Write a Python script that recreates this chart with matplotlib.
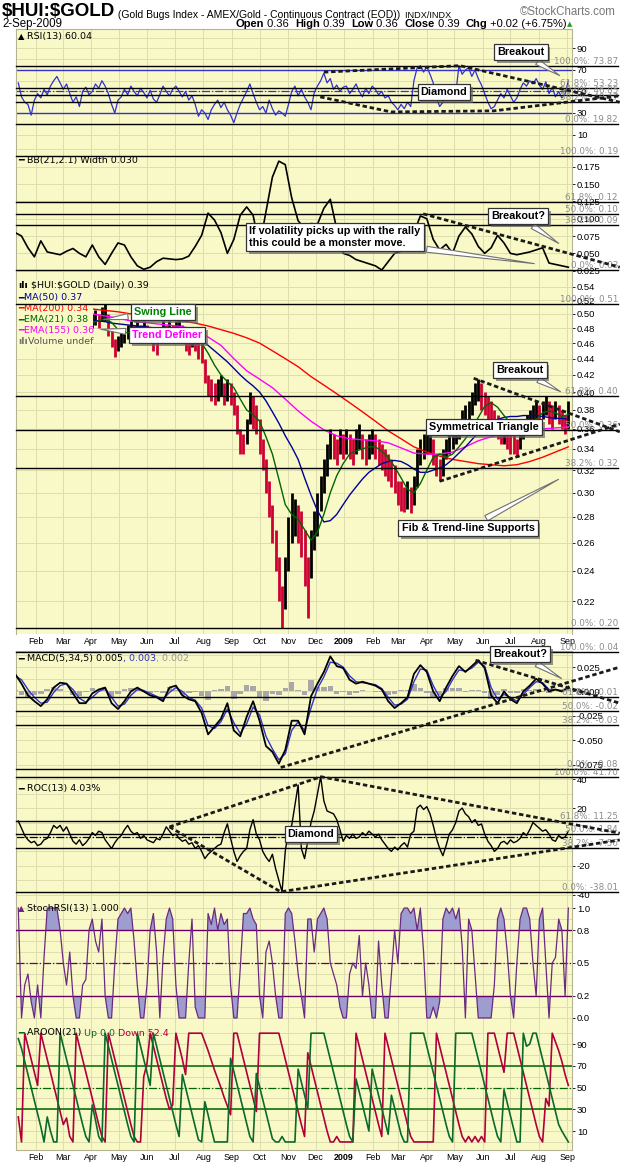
import numpy as np
import pandas as pd
import matplotlib
matplotlib.use("Agg")
import matplotlib.pyplot as plt
import matplotlib.dates as mdates
import matplotlib.transforms as mtransforms
import matplotlib.patheffects as pe
from matplotlib.patches import Rectangle
from matplotlib.ticker import FixedLocator, NullLocator, FuncFormatter

plt.rcParams['axes.unicode_minus'] = False
plt.rcParams['font.family'] = ['DejaVu Sans']

# ---------------- data ----------------
# semi-weekly samples (every 3.5 days) ending 2-Sep-2009
hui_high = [
    0.52, 0.53, 0.52, 0.51, 0.52, 0.53,
    0.53, 0.54, 0.53, 0.52, 0.53, 0.54, 0.53, 0.52,
    0.52, 0.53, 0.52, 0.51, 0.52, 0.51, 0.50, 0.51, 0.50,
    0.50, 0.505, 0.50, 0.51, 0.514, 0.50, 0.48, 0.465, 0.47,
    0.475, 0.48, 0.485, 0.49, 0.485, 0.49, 0.485, 0.49, 0.485,
    0.48, 0.47, 0.465, 0.48, 0.49, 0.485, 0.49, 0.485,
    0.49, 0.495, 0.485, 0.475, 0.47, 0.48, 0.47, 0.465, 0.46,
    0.44, 0.42, 0.415, 0.41, 0.415, 0.42, 0.41, 0.415, 0.41,
    0.40, 0.385, 0.36, 0.355, 0.37, 0.40, 0.395, 0.385, 0.37,
    0.35, 0.33, 0.31, 0.29, 0.27, 0.25, 0.23, 0.25, 0.28,
    0.30, 0.295, 0.29, 0.285, 0.27, 0.25, 0.27, 0.285,
    0.30, 0.315, 0.33, 0.345, 0.36, 0.355, 0.35, 0.36, 0.355,
    0.36, 0.355, 0.35, 0.36, 0.365, 0.355, 0.35, 0.355, 0.36,
    0.355, 0.35, 0.345, 0.34, 0.335, 0.33, 0.325, 0.31,
    0.31, 0.305, 0.31, 0.305, 0.315, 0.34, 0.35, 0.355, 0.36,
    0.36, 0.35, 0.335, 0.33, 0.34, 0.35, 0.36, 0.36, 0.365,
    0.37, 0.38, 0.385, 0.39, 0.40, 0.41, 0.415, 0.41, 0.40,
    0.395, 0.39, 0.38, 0.375, 0.37, 0.37, 0.365, 0.36,
    0.355, 0.35, 0.36, 0.37, 0.375, 0.38, 0.385, 0.39, 0.385,
    0.39, 0.395, 0.39, 0.385, 0.39, 0.385, 0.38, 0.375, 0.39,
]
hui_low = [
    0.50, 0.51, 0.50, 0.49, 0.50, 0.51,
    0.51, 0.52, 0.51, 0.50, 0.51, 0.52, 0.51, 0.50,
    0.50, 0.51, 0.50, 0.49, 0.50, 0.49, 0.48, 0.49, 0.48,
    0.48, 0.485, 0.48, 0.49, 0.49, 0.47, 0.455, 0.442, 0.45,
    0.455, 0.46, 0.465, 0.47, 0.465, 0.47, 0.465, 0.47, 0.465,
    0.46, 0.45, 0.445, 0.46, 0.47, 0.465, 0.47, 0.465,
    0.47, 0.475, 0.46, 0.45, 0.445, 0.455, 0.45, 0.44, 0.435,
    0.41, 0.395, 0.39, 0.385, 0.39, 0.395, 0.385, 0.39, 0.385,
    0.375, 0.355, 0.335, 0.335, 0.345, 0.365, 0.36, 0.355, 0.335,
    0.32, 0.30, 0.28, 0.26, 0.24, 0.22, 0.204, 0.215, 0.24,
    0.26, 0.265, 0.26, 0.25, 0.23, 0.21, 0.235, 0.255,
    0.265, 0.285, 0.30, 0.315, 0.33, 0.33, 0.325, 0.335, 0.33,
    0.335, 0.33, 0.325, 0.335, 0.34, 0.33, 0.325, 0.33, 0.335,
    0.33, 0.325, 0.32, 0.315, 0.31, 0.305, 0.30, 0.29,
    0.285, 0.284, 0.286, 0.283, 0.29, 0.305, 0.325, 0.33, 0.335,
    0.335, 0.325, 0.315, 0.31, 0.315, 0.33, 0.335, 0.34, 0.345,
    0.35, 0.355, 0.36, 0.37, 0.375, 0.385, 0.39, 0.38, 0.375,
    0.37, 0.365, 0.355, 0.35, 0.345, 0.345, 0.34, 0.335,
    0.335, 0.332, 0.34, 0.35, 0.355, 0.36, 0.365, 0.37, 0.365,
    0.37, 0.375, 0.365, 0.36, 0.37, 0.365, 0.36, 0.355, 0.36,
]
rsi = [
    58, 45, 40, 38, 28, 42,
    48, 44, 52, 47, 55, 60, 64, 58,
    52, 57, 48, 40, 45, 36, 50, 54, 47,
    50, 57, 53, 60, 55, 48, 38, 30, 42,
    45, 52, 47, 55, 50, 46, 53, 49, 44,
    51, 43, 40, 47, 55, 50, 46, 52,
    55, 50, 45, 50, 42, 46, 38, 27, 33,
    30, 24, 33, 38, 42, 35, 40, 33, 28,
    21, 30, 38, 44, 50, 57, 48, 40, 33,
    36, 30, 42, 34, 28, 32, 30, 27, 38,
    50, 55, 46, 52, 45, 40, 33, 49,
    55, 60, 67, 58, 62, 52, 56, 50, 54,
    55, 48, 52, 57, 50, 45, 53, 48, 55,
    52, 47, 50, 44, 46, 40, 37, 33,
    38, 34, 40, 36, 60, 72, 74, 68, 73,
    66, 58, 44, 36, 40, 50, 46, 52, 48,
    74, 66, 70, 72, 64, 70, 62, 56, 48,
    40, 34, 36, 42, 48, 44, 52, 46,
    40, 44, 52, 58, 55, 60, 57, 62, 56,
    52, 59, 48, 54, 45, 50, 44, 48, 60,
]
roc = [
    11, 6, 1, -2, -4, -3,
    -6, -5, -2, -1, 3, 8, 6, 8,
    4, 7, 2, -3, -5, -2, -6, -4, -1,
    3, 1, 4, 3, -2, -5, -8, -4, -1,
    1, 5, 8, 4, 2, 3, -1, 1, -2,
    -3, -4, -1, -2, 2, 7, 4, 1,
    2, -1, -3, -2, -5, -4, -8, -6, -10,
    -15, -12, -10, -8, -6, -5, 3, 9, -1,
    -10, -17, -13, -10, -8, 5, 12, 2, -2,
    -10, -14, -17, -12, -22, -30, -38, -10, 5,
    8, 22, 36, -8, -15, -3, 10, 18,
    30, 41.7, 25, 18, 17, 16, 12, 5, -3,
    1, -1, 2, -1, 0, 3, 1, 4, 2,
    0, 2, -2, -5, -8, -10, -7, -9,
    -6, -4, -7, 2, 4, 20, 22, 19, 21,
    16, 8, -1, -8, -13, -6, 2, 5, 10,
    18, 20, 16, 14, 10, 12, 8, 9, 2,
    -3, -6, -10, -8, -4, -3, -5, -2,
    -4, -3, -1, 3, 1, 5, 10, 8, 6,
    4, 5, 2, -2, -3, 1, -1, 0, 4,
]
stoch_rsi = [
    1.0, 0.0, 0.3, 0.4, 0.15, 0.0,
    0.3, 0.0, 0.55, 1.0, 1.0, 1.0, 1.0, 0.8,
    0.5, 0.3, 0.6, 0.2, 0.0, 0.0, 0.3, 0.35, 0.8,
    0.9, 0.7, 0.6, 0.9, 0.2, 0.0, 0.0, 0.5, 0.9,
    0.95, 1.0, 0.95, 1.0, 0.7, 0.3, 0.0, 0.0, 0.3,
    0.8, 0.95, 0.6, 0.0, 0.55, 0.9, 1.0, 0.9,
    0.3, 0.0, 0.0, 0.0, 0.5, 0.9, 0.1, 0.0, 0.0,
    0.0, 0.95, 0.85, 1.0, 0.8, 0.95, 0.85, 0.9, 0.3,
    0.0, 0.0, 0.45, 0.95, 0.95, 1.0, 0.9, 0.85, 0.2,
    0.0, 0.6, 0.7, 0.5, 0.2, 0.0, 0.0, 0.95, 1.0,
    0.95, 0.7, 0.4, 0.2, 0.0, 0.9, 0.9, 0.6,
    0.9, 0.95, 1.0, 0.9, 0.5, 0.4, 0.3, 0.1, 0.0,
    0.0, 0.4, 0.5, 0.45, 0.75, 0.2, 0.5, 0.3, 0.0,
    0.0, 0.7, 0.3, 0.0, 0.0, 0.4, 0.8, 0.5,
    0.95, 1.0, 1.0, 0.95, 1.0, 0.8, 1.0, 0.6, 0.0,
    0.0, 0.1, 0.0, 0.15, 0.9, 1.0, 0.95, 1.0, 0.9,
    1.0, 0.65, 0.0, 0.9, 0.8, 0.4, 0.0, 0.0, 0.0,
    0.0, 0.0, 0.3, 0.9, 1.0, 0.9, 0.6, 0.2,
    0.0, 0.5, 0.9, 1.0, 1.0, 0.9, 0.5, 0.2, 0.9,
    1.0, 0.5, 0.0, 0.5, 0.55, 0.9, 0.8, 0.2, 1.0,
]
aroon_up = [
    95, 86, 74, 62, 50, 38,
    26, 14, 0, 23, 10, 0, 0, 100,
    88, 76, 64, 52, 40, 28, 16, 5, 0,
    34, 20, 5, 0, 100, 88, 76, 64, 52,
    40, 28, 16, 5, 0, 100, 88, 76, 64,
    52, 100, 88, 76, 64, 52, 40, 28,
    16, 5, 62, 50, 38, 26, 14, 2, 0,
    37, 25, 12, 0, 0, 0, 0, 0, 77,
    65, 53, 41, 29, 17, 5, 0, 63, 51,
    39, 27, 15, 3, 0, 0, 5, 0, 0,
    0, 0, 67, 55, 43, 31, 100, 100,
    100, 100, 100, 88, 76, 64, 52, 40, 28,
    16, 5, 0, 58, 46, 34, 22, 10, 67,
    55, 43, 31, 19, 7, 43, 31, 19,
    7, 0, 0, 100, 100, 100, 100, 100, 88,
    76, 64, 52, 40, 28, 16, 5, 0, 100,
    100, 100, 100, 100, 100, 88, 76, 64, 52,
    40, 28, 16, 5, 0, 48, 36, 24,
    12, 0, 0, 100, 88, 90, 100, 100, 88,
    76, 64, 52, 40, 28, 16, 10, 5, 0,
]
aroon_down = [
    23, 0, 100, 88, 76, 64,
    52, 100, 88, 76, 64, 52, 40, 28,
    16, 22, 5, 0, 100, 88, 76, 64, 52,
    40, 28, 16, 5, 0, 100, 88, 76, 64,
    52, 40, 28, 16, 5, 0, 0, 60, 72,
    100, 88, 76, 64, 52, 40, 30, 34,
    100, 88, 76, 62, 100, 100, 100, 100, 100,
    92, 84, 75, 66, 58, 50, 41, 33, 25,
    100, 100, 88, 76, 64, 52, 40, 28, 100,
    100, 100, 100, 100, 100, 100, 88, 76, 64,
    52, 40, 28, 16, 5, 82, 70, 58,
    46, 34, 22, 10, 0, 0, 5, 0, 0,
    0, 0, 0, 100, 88, 76, 64, 52, 40,
    28, 16, 5, 100, 88, 76, 64, 52,
    40, 28, 16, 5, 0, 0, 0, 0, 0,
    0, 0, 100, 88, 76, 64, 52, 40, 28,
    16, 5, 0, 5, 0, 5, 0, 5, 0,
    100, 100, 100, 88, 76, 64, 100, 100,
    100, 88, 76, 64, 52, 40, 28, 16, 5,
    0, 40, 33, 100, 92, 84, 74, 62, 52,
]
# weekly samples ending 2-Sep-2009
bb_width = [
    0.08, 0.075, 0.058, 0.045, 0.068, 0.052, 0.05, 0.048, 0.053, 0.057,
    0.05, 0.045, 0.062, 0.045, 0.034, 0.05, 0.065, 0.062, 0.045, 0.032,
    0.027, 0.03, 0.038, 0.043, 0.042, 0.041, 0.042, 0.046, 0.06, 0.076,
    0.108, 0.098, 0.08, 0.05, 0.07, 0.105, 0.117, 0.105, 0.06, 0.11,
    0.16, 0.183, 0.178, 0.13, 0.097, 0.086, 0.093, 0.092, 0.115, 0.128,
    0.085, 0.05, 0.047, 0.041, 0.038, 0.035, 0.032, 0.026, 0.038, 0.05,
    0.053, 0.058, 0.08, 0.104, 0.1, 0.07, 0.055, 0.063, 0.05, 0.075,
    0.088, 0.078, 0.06, 0.05, 0.058, 0.076, 0.065, 0.05, 0.048, 0.05,
    0.052, 0.055, 0.058, 0.036, 0.034, 0.032, 0.03,
]
macd = [
    0.018, 0.008, -0.004, -0.01, -0.015, -0.008, 0.004, 0.009, 0.008, -0.002,
    -0.012, -0.012, -0.002, 0.002, 0.004, -0.012, -0.018, -0.01, 0.0, 0.004,
    0.0, -0.004, -0.006, -0.01, 0.004, 0.006, -0.004, -0.008, -0.01, -0.022,
    -0.044, -0.036, -0.028, -0.012, -0.04, -0.046, -0.026, -0.01, -0.03, -0.056,
    -0.062, -0.074, -0.06, -0.03, -0.03, -0.044, -0.005, 0.008, 0.02, 0.036,
    0.026, 0.024, 0.012, 0.008, 0.01, 0.008, 0.006, 0.002, -0.01, -0.017,
    -0.012, -0.006, 0.018, 0.027, 0.02, 0.0, -0.01, 0.004, 0.016, 0.026,
    0.02, 0.026, 0.032, 0.024, -0.004, -0.012, 0.0, -0.008, -0.012, 0.0,
    0.006, 0.013, 0.008, 0.0, 0.002, 0.0, 0.005,
]
macd_signal = [
    0.016, 0.012, 0.002, -0.006, -0.012, -0.011, -0.001, 0.006, 0.008, 0.002,
    -0.007, -0.011, -0.006, 0.0, 0.003, -0.006, -0.015, -0.013, -0.004, 0.002,
    0.001, -0.002, -0.005, -0.008, -0.001, 0.004, 0.0, -0.006, -0.009, -0.017,
    -0.035, -0.038, -0.031, -0.018, -0.032, -0.043, -0.033, -0.016, -0.024, -0.046,
    -0.059, -0.07, -0.064, -0.04, -0.031, -0.04, -0.017, 0.003, 0.015, 0.03,
    0.029, 0.025, 0.016, 0.01, 0.009, 0.008, 0.007, 0.003, -0.006, -0.014,
    -0.013, -0.008, 0.01, 0.023, 0.022, 0.006, -0.006, 0.0, 0.012, 0.022,
    0.021, 0.024, 0.03, 0.026, 0.004, -0.008, -0.003, -0.006, -0.01, -0.003,
    0.004, 0.01, 0.009, 0.002, 0.002, 0.001, 0.003,
]
macd_hist = [
    0.002, -0.004, -0.006, -0.004, -0.003, 0.003, 0.005, 0.003, 0.0, -0.004,
    -0.005, -0.001, 0.004, 0.002, 0.001, -0.006, -0.003, 0.003, 0.004, 0.002,
    -0.001, -0.002, -0.001, -0.002, 0.005, 0.002, -0.004, -0.002, -0.001, -0.005,
    -0.009, 0.002, 0.003, 0.006, -0.008, -0.003, 0.007, 0.006, -0.006, -0.01,
    -0.003, -0.004, 0.004, 0.01, 0.001, -0.004, 0.012, 0.005, 0.005, 0.006,
    -0.003, -0.001, -0.004, -0.002, 0.001, 0.0, -0.001, -0.001, -0.004, -0.003,
    0.001, 0.002, 0.008, 0.004, -0.002, -0.006, -0.004, 0.004, 0.004, 0.004,
    -0.001, 0.002, 0.002, -0.002, -0.008, -0.004, 0.003, -0.002, -0.002, 0.003,
    0.002, 0.003, -0.001, -0.002, 0.0, -0.001, 0.002,
]
# moving averages: weekly (MA50, EMA21) and bi-weekly (MA200, EMA155) from 2-Apr-2008
ma50 = [
    0.492, 0.49, 0.489, 0.487, 0.486, 0.485, 0.484, 0.483, 0.482, 0.481,
    0.48, 0.479, 0.478, 0.477, 0.476, 0.474, 0.47, 0.465, 0.457, 0.45,
    0.443, 0.436, 0.428, 0.42, 0.413, 0.407, 0.4, 0.39, 0.378, 0.366,
    0.353, 0.342, 0.33, 0.313, 0.298, 0.285, 0.276, 0.277, 0.282, 0.29,
    0.298, 0.305, 0.312, 0.318, 0.322, 0.326, 0.328, 0.329, 0.328, 0.325,
    0.321, 0.318, 0.318, 0.32, 0.322, 0.325, 0.33, 0.336, 0.342, 0.349,
    0.356, 0.362, 0.367, 0.37, 0.372, 0.373, 0.373, 0.374, 0.374, 0.374,
    0.373, 0.372, 0.371, 0.371, 0.37,
]
ema21 = [
    0.488, 0.49, 0.493, 0.488, 0.478, 0.474, 0.474, 0.476, 0.477, 0.476,
    0.472, 0.468, 0.47, 0.474, 0.476, 0.472, 0.466, 0.46, 0.447, 0.432,
    0.42, 0.412, 0.405, 0.392, 0.38, 0.375, 0.368, 0.352, 0.335, 0.312,
    0.29, 0.282, 0.278, 0.27, 0.262, 0.268, 0.282, 0.3, 0.315, 0.326,
    0.335, 0.338, 0.34, 0.342, 0.342, 0.338, 0.332, 0.323, 0.313, 0.303,
    0.3, 0.308, 0.32, 0.332, 0.335, 0.332, 0.335, 0.342, 0.35, 0.36,
    0.372, 0.384, 0.388, 0.383, 0.374, 0.366, 0.358, 0.357, 0.362, 0.37,
    0.377, 0.379, 0.377, 0.373, 0.375,
]
ma200 = [
    0.507, 0.505, 0.503, 0.50, 0.497, 0.495, 0.492, 0.49, 0.487, 0.483,
    0.478, 0.473, 0.467, 0.46, 0.45, 0.44, 0.43, 0.418, 0.408, 0.398,
    0.388, 0.378, 0.368, 0.358, 0.35, 0.342, 0.337, 0.333, 0.33, 0.328,
    0.326, 0.325, 0.324, 0.325, 0.328, 0.332, 0.337, 0.342,
]
ema155 = [
    0.50, 0.497, 0.494, 0.49, 0.488, 0.486, 0.484, 0.482, 0.478, 0.468,
    0.457, 0.44, 0.425, 0.415, 0.405, 0.392, 0.379, 0.368, 0.359, 0.353,
    0.35, 0.349, 0.348, 0.346, 0.341, 0.336, 0.335, 0.335, 0.337, 0.342,
    0.348, 0.352, 0.355, 0.356, 0.358, 0.36, 0.361, 0.362,
]

# retracement levels drawn by the chartist (value, label)
rsi_fib = [73.87, 53.23, 46.85, 40.47, 19.82]
rsi_fib_lbl = ['100.0%: 73.87', '61.8%: 53.23', '50.0%: 46.85', '38.2%: 40.47', '0.0%: 19.82']
bb_fib = [0.190, 0.124, 0.107, 0.091, 0.026]
bb_fib_lbl = ['100.0%: 0.19', '61.8%: 0.12', '50.0%: 0.10', '38.2%: 0.09', '0.0%: 0.03']
px_fib = [0.514, 0.396, 0.359, 0.322, 0.204]
px_fib_lbl = ['100.0%: 0.51', '61.8%: 0.40', '50.0%: 0.36', '38.2%: 0.32', '0.0%: 0.20']
macd_fib = [0.040, -0.006, -0.020, -0.034, -0.080]
macd_fib_lbl = ['100.0%: 0.04', '61.8%: -0.01', '50.0%: -0.02', '38.2%: -0.03', '0.0%: -0.08']
roc_fib = [41.70, 11.25, 1.84, -7.56, -38.01]
roc_fib_lbl = ['100.0%: 41.70', '61.8%: 11.25', '50.0%: 1.84', '38.2%: -7.56', '0.0%: -38.01']

# ---------------- setup ----------------
W, H = 620, 1165
BG = '#f9f9c8'
GRID = '#deddb0'
FIBC = '#8c8c8c'
TICKFONT = 'Liberation Sans'
BOLDFONT = ['Liberation Sans', 'DejaVu Sans']

fig = plt.figure(figsize=(W / 100, H / 100), dpi=100)
PX = mtransforms.Affine2D().scale(0.01, -0.01).translate(0, H / 100) + fig.dpi_scale_trans


def when(n, hours):
    return mdates.date2num(pd.date_range(end='2009-09-02', periods=n, freq=f'{hours}h'))


def d(s):
    return mdates.date2num(pd.Timestamp(s))


X0, X1, XFAR = d('2008-01-10'), d('2009-09-06'), d('2009-10-26')
months = pd.date_range('2008-02-01', '2009-09-01', freq='MS')
month_pos = mdates.date2num(months)
month_lbl = ['2009' if m.month == 1 else m.strftime('%b') for m in months]


def panel(top, bot, ymin, ymax, major, minor, fmt):
    ax = fig.add_axes([16 / W, 1 - bot / H, 556 / W, (bot - top) / H], facecolor=BG)
    ax.set_xlim(X0, X1)
    ax.set_ylim(ymin, ymax)
    ax.set_axisbelow(True)
    ax.xaxis.set_major_locator(FixedLocator(month_pos))
    ax.set_xticklabels(month_lbl)
    ax.yaxis.set_major_locator(FixedLocator(major))
    ax.yaxis.set_minor_locator(FixedLocator(minor))
    ax.yaxis.set_major_formatter(FuncFormatter(lambda v, p: fmt % v))
    ax.yaxis.tick_right()
    ax.grid(True, axis='x', which='major', color=GRID, lw=0.7)
    ax.grid(True, axis='y', which='both', color=GRID, lw=0.7)
    ax.tick_params(axis='x', length=0, labelbottom=False, labelsize=6.4, pad=2.5,
                   labelfontfamily=TICKFONT)
    ax.tick_params(axis='y', which='major', length=2, width=0.6, pad=1.5, labelsize=6.8,
                   labelfontfamily=TICKFONT)
    ax.tick_params(axis='y', which='minor', length=0)
    for s in ('top', 'bottom'):
        ax.spines[s].set_visible(False)
    for s in ('left', 'right'):
        ax.spines[s].set_color('#b4b494')
        ax.spines[s].set_linewidth(0.8)
    return ax


def fibs(ax, levels, labels):
    for lv, lb in zip(levels, labels):
        ax.plot([X0, XFAR], [lv, lv], color='black', lw=1.0, clip_on=False, zorder=7)
        ax.text(XFAR, lv, lb, ha='right', va='bottom', color=FIBC, fontsize=6.3,
                clip_on=False, zorder=7)


def dashed(ax, pts):
    xs = [d(p[0]) for p in pts]
    ys = [p[1] for p in pts]
    ax.plot(xs, ys, color='#1a1a1a', lw=2.0, ls=(0, (1.6, 1.0)), clip_on=False, zorder=8)


def callout(ax, text, box, tip=None, color='black', size=7.8):
    bbox = dict(boxstyle='square,pad=0.28', fc='white', ec='#333333', lw=0.9)
    if tip is None:
        t = ax.text(box[0], box[1], text, transform=PX, ha='center', va='center',
                    fontsize=size, fontweight='bold', color=color, family=BOLDFONT,
                    bbox=bbox, zorder=10)
    else:
        t = ax.annotate(text, xy=tip, xycoords=PX, xytext=box, textcoords=PX,
                        ha='center', va='center', fontsize=size, fontweight='bold',
                        color=color, family=BOLDFONT, bbox=bbox, annotation_clip=False,
                        multialignment='left', zorder=10,
                        arrowprops=dict(arrowstyle='wedge,tail_width=0.55,shrink_factor=0.5',
                                        fc='white', ec='#707070', lw=0.8))
    t.get_bbox_patch().set_path_effects([pe.SimplePatchShadow(offset=(2, -2),
                                         shadow_rgbFace='#666666', alpha=0.7), pe.Normal()])
    return t


def chain(ax, x, y, pieces, zorder=6):
    t = None
    for i, (s, c, kw) in enumerate(pieces):
        opts = dict(color=c, zorder=zorder)
        opts.setdefault('fontsize', 6.8)
        opts.update(kw)
        if t is None:
            t = ax.text(x, y, s, transform=PX, ha='left', va='center', **opts)
        else:
            t = ax.annotate(s, xy=(1, 0), xycoords=t, xytext=(0, 0),
                            textcoords='offset points', ha='left', va='bottom', **opts)
    return t


xs = when(len(hui_high), 84)
xw = when(len(bb_width), 168)

# ---------------- RSI ----------------
ax_rsi = panel(29, 143, 2.1, 108.1, [10, 30, 50, 70, 90],
               [10, 20, 30, 40, 50, 60, 70, 80, 90, 100], '%d')
ax_rsi.spines['top'].set_visible(True)
ax_rsi.spines['top'].set_color('#b4b494')
for lv in (70, 30):
    ax_rsi.axhline(lv, color='#3333cc', lw=1.0, zorder=2)
ax_rsi.axhline(50, color='#3333cc', lw=0.9, ls='-.', zorder=2)
ax_rsi.plot(when(len(rsi), 84), rsi, color='#3030d0', lw=0.9, zorder=4)
fibs(ax_rsi, rsi_fib, rsi_fib_lbl)
dashed(ax_rsi, [('2008-12-10', 68), ('2009-05-07', 74), ('2009-10-28', 40)])
dashed(ax_rsi, [('2008-12-06', 45), ('2009-02-21', 31), ('2009-06-13', 32), ('2009-10-28', 46)])
chain(ax_rsi, 18, 37, [('\u25b2', 'black', dict(fontsize=6)), (' RSI(13) 60.04', 'black', {})])
callout(ax_rsi, 'Breakout', (521, 52), (562, 77))
callout(ax_rsi, 'Diamond', (444, 92))

# ---------------- BB width ----------------
ax_bb = panel(143, 279, 0.013, 0.2092, [0.025, 0.05, 0.075, 0.1, 0.125, 0.15, 0.175],
              [0.025, 0.05, 0.075, 0.1, 0.125, 0.15, 0.175, 0.2], '%.3f')
ax_bb.plot(xw, bb_width, color='black', lw=1.2, zorder=4)
chain(ax_bb, 18, 160, [('\u2501', 'black', {}), (' BB(21,2.1) Width 0.030', 'black', {})], zorder=5)
fibs(ax_bb, bb_fib, bb_fib_lbl)
dashed(ax_bb, [('2009-03-28', 0.107), ('2009-10-28', 0.030)])
callout(ax_bb, 'Breakout?', (518, 216), (561, 245))
callout(ax_bb, 'If volatility picks up with the rally\nthis could be a monster move.',
        (335, 237), (537, 264))

# ---------------- price ----------------
ax_p = panel(279, 634, 0.2004, 0.5524,
             [0.22, 0.24, 0.26, 0.28, 0.30, 0.32, 0.34, 0.36, 0.38, 0.40, 0.42, 0.44,
              0.46, 0.48, 0.50, 0.52, 0.54], [], '%.2f')
ax_p.set_yscale('log')
ax_p.set_ylim(0.2004, 0.5524)
ax_p.yaxis.set_major_locator(FixedLocator([0.22, 0.24, 0.26, 0.28, 0.30, 0.32, 0.34, 0.36,
                                           0.38, 0.40, 0.42, 0.44, 0.46, 0.48, 0.50, 0.52, 0.54]))
ax_p.yaxis.set_major_formatter(FuncFormatter(lambda v, p: '%.2f' % v))
ax_p.yaxis.set_minor_locator(NullLocator())
ax_p.tick_params(axis='x', labelbottom=True)
hi = np.array(hui_high)
lo = np.array(hui_low)
mid = (hi + lo) / 2
up = np.r_[True, mid[1:] >= mid[:-1]]
bar_cols = np.where(up, 'black', '#cc0033')
ax_p.vlines(xs, lo, hi, colors=bar_cols, lw=2.0, zorder=3)
ax_p.plot(when(len(ma200), 336), ma200, color='#ff0000', lw=1.0, zorder=4)
ax_p.plot(when(len(ema155), 336), ema155, color='#ff00ff', lw=1.0, zorder=4)
ax_p.plot(when(len(ma50), 168), ma50, color='#000099', lw=1.0, zorder=4)
ax_p.plot(when(len(ema21), 168), ema21, color='#006600', lw=1.0, zorder=4)
ax_p.add_patch(Rectangle((16.5, 280), 76, 67, transform=PX, fc=BG, ec='none', zorder=5))
chain(ax_p, 18, 286, [('\u0131l\u0131', 'black', dict(fontweight='bold')),
                      (r' \$HUI:\$GOLD (Daily) 0.39', 'black', {})])
for row, (lbl, col) in enumerate([('MA(50) 0.37', '#000099'), ('MA(200) 0.34', '#ff0000'),
                                  ('EMA(21) 0.38', '#006600'), ('EMA(155) 0.36', '#ff00ff')]):
    chain(ax_p, 18, 297.5 + 11 * row, [('\u2501', col, {}), (lbl, col, {})])
chain(ax_p, 18, 341.5, [('\u0131l\u0131', '#777777', dict(fontweight='bold')),
                        ('Volume undef', '#555555', {})])
fibs(ax_p, px_fib, px_fib_lbl)
dashed(ax_p, [('2009-05-22', 0.416), ('2009-10-28', 0.357)])
dashed(ax_p, [('2009-04-15', 0.310), ('2009-10-28', 0.365)])
callout(ax_p, 'Swing Line', (163, 312), (101, 320), color='#008000')
callout(ax_p, 'Trend Definer', (167, 335), (98, 329), color='#ff00ff')
callout(ax_p, 'Breakout', (520, 370), (563, 393))
callout(ax_p, 'Symmetrical Triangle', (484, 427))
callout(ax_p, 'Fib & Trend-line Supports', (468, 528), (561, 478))

# ---------------- MACD ----------------
ax_m = panel(651, 772, -0.0826, 0.0415, [-0.075, -0.05, -0.025, 0.0, 0.025],
             [-0.075, -0.0625, -0.05, -0.0375, -0.025, -0.0125, 0.0, 0.0125, 0.025, 0.0375],
             '%.3f')
ax_m.spines['top'].set_visible(True)
ax_m.spines['top'].set_color('#b4b494')
ax_m.bar(xw, macd_hist, width=6, color='#a8a8a8', zorder=2)
ax_m.plot(xw, macd_signal, color='#3333cc', lw=1.0, zorder=4)
ax_m.plot(xw, macd, color='black', lw=1.3, zorder=4)
chain(ax_m, 18, 659, [('\u2501', 'black', {}), (' MACD(5,34,5) 0.005', 'black', {}),
                      (', 0.003', '#3333cc', {}), (', 0.002', '#999999', {})], zorder=5)
fibs(ax_m, macd_fib, macd_fib_lbl)
dashed(ax_m, [('2009-05-24', 0.032), ('2009-10-28', -0.012)])
dashed(ax_m, [('2008-10-24', -0.078), ('2009-10-28', 0.025)])
callout(ax_m, 'Breakout?', (520, 654), (564, 680))

# ---------------- ROC ----------------
ax_r = panel(772, 899, -43.0, 45.0, [-40, -20, 20, 40], [-40, -30, -20, -10, 0, 10, 20, 30, 40], '%d')
ax_r.axhline(0, color='black', lw=0.9, ls='-.', zorder=2)
ax_r.plot(when(len(roc), 84), roc, color='black', lw=1.0, zorder=4)
chain(ax_r, 18, 789, [('\u2501', 'black', {}), (' ROC(13) 4.03%', 'black', {})], zorder=5)
fibs(ax_r, roc_fib, roc_fib_lbl)
dashed(ax_r, [('2008-06-25', 7), ('2008-12-07', 41.7), ('2009-10-28', 2.6)])
dashed(ax_r, [('2008-06-25', 7), ('2008-10-24', -38), ('2009-10-28', -2.1)])
callout(ax_r, 'Diamond', (311, 834))

# ---------------- StochRSI ----------------
ax_s = panel(899, 1027, -0.082, 1.082, [0.0, 0.2, 0.5, 0.8, 1.0],
             [0.0, 0.1, 0.2, 0.3, 0.4, 0.5, 0.6, 0.7, 0.8, 0.9, 1.0], '%.1f')
st = np.array(stoch_rsi)
xst = when(len(st), 84)
ax_s.fill_between(xst, st, 0.8, where=st >= 0.8, interpolate=True, color='#9d9dd0', lw=0, zorder=2)
ax_s.fill_between(xst, st, 0.2, where=st <= 0.2, interpolate=True, color='#9d9dd0', lw=0, zorder=2)
for lv in (0.8, 0.2):
    ax_s.axhline(lv, color='#660066', lw=1.0, zorder=3)
ax_s.axhline(0.5, color='#660066', lw=0.9, ls='-.', zorder=3)
ax_s.plot(xst, st, color='#6a2a80', lw=0.9, zorder=4)
chain(ax_s, 18, 909, [('\u25b2', '#6a2a80', dict(fontsize=6)), (' StochRSI(13) 1.000', 'black', {})])

# ---------------- Aroon ----------------
ax_a = panel(1027, 1150, -7.4, 105.7, [10, 30, 50, 70, 90],
             [0, 10, 20, 30, 40, 50, 60, 70, 80, 90, 100], '%d')
ax_a.spines['bottom'].set_visible(True)
ax_a.spines['bottom'].set_color('#b4b494')
ax_a.tick_params(axis='x', labelbottom=True)
for lv in (70, 30):
    ax_a.axhline(lv, color='#006600', lw=1.1, zorder=3)
ax_a.axhline(50, color='#006600', lw=0.9, ls='-.', zorder=3)
ax_a.plot(when(len(aroon_down), 84), aroon_down, color='#b0003a', lw=1.2, zorder=4)
ax_a.plot(when(len(aroon_up), 84), aroon_up, color='#0a6a2a', lw=1.2, zorder=4)
chain(ax_a, 18, 1033, [('\u2501', '#0a6a2a', {}), (' AROON(21)', 'black', {}),
                       (' Up 0.0', '#0a6a2a', {}), (' Down 52.4', '#b0003a', {})])

for ax in (ax_p, ax_a):
    for lab in ax.get_xticklabels():
        if lab.get_text() == '2009':
            lab.set_fontweight('bold')

# ---------------- header ----------------
ov = fig.add_axes([0, 0, 1, 1], facecolor='none')
ov.set_axis_off()
chain(ov, 2, 12, [(r'\$HUI:\$GOLD', 'black', dict(fontsize=13.5, fontweight='bold', family=BOLDFONT)),
                  (' (Gold Bugs Index - AMEX/Gold - Continuous Contract (EOD))', 'black',
                   dict(fontsize=7.5, family=BOLDFONT)),
                  ('  INDX/INDX', 'black', dict(fontsize=6.6, family=BOLDFONT))])
ov.text(616, 12, '\u00a9StockCharts.com', transform=PX, ha='right', va='center',
        fontsize=8.3, color='#777777', family=BOLDFONT)
ov.text(2, 24, '2-Sep-2009', transform=PX, ha='left', va='center', fontsize=8.3, family=BOLDFONT)
hdr = []
for k, v in [('Open', ' 0.36  '), ('High', ' 0.39  '), ('Low', ' 0.36  '),
             ('Close', ' 0.39  '), ('Chg', ' +0.02 (+6.75%)')]:
    hdr.append((k, 'black', dict(fontsize=8.0, fontweight='bold', family=BOLDFONT)))
    hdr.append((v, 'black', dict(fontsize=8.0, family=BOLDFONT)))
chain(ov, 236, 24, hdr)
ov.text(570, 24, '\u25b2', transform=PX, ha='center', va='center', fontsize=5, color='#2a9a2a')

fig.savefig('out.png', dpi=100)
